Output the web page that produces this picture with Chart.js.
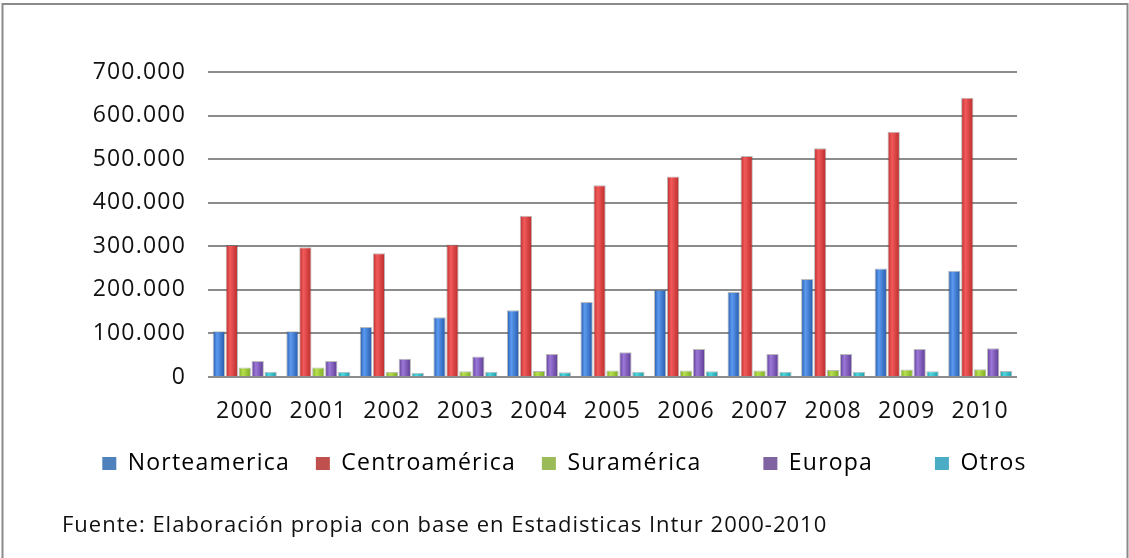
<!DOCTYPE html>
<html>
<head>
<meta charset="utf-8">
<script src="https://cdn.jsdelivr.net/npm/chart.js@4/dist/chart.umd.min.js"></script>
<style>
  html, body { margin: 0; padding: 0; background: #fff; }
  #wrap { width: 1129px; height: 558px; }
</style>
</head>
<body>
<div id="wrap"><canvas id="chart" width="1129" height="558"></canvas></div>
<script>
// years on the x axis
const years = ['2000', '2001', '2002', '2003', '2004', '2005', '2006', '2007', '2008', '2009', '2010'];

// visitors by region of origin
const norteamerica  = [105000, 105000, 115000, 137000, 153000, 172000, 200000, 195000, 225000, 249000, 244000];
const centroamerica = [303000, 298000, 284000, 304000, 370000, 440000, 460000, 507000, 525000, 563000, 641000];
const suramerica    = [22000, 22000, 12000, 13000, 14000, 15000, 15000, 15000, 16000, 17000, 18000];
const europa        = [37000, 37000, 42000, 47000, 53000, 57000, 64000, 53000, 53000, 64000, 66000];
const otros         = [12000, 12000, 10000, 12000, 11000, 12000, 13000, 12000, 12000, 13000, 14000];

const seriesNames = ['Norteamerica', 'Centroamérica', 'Suramérica', 'Europa', 'Otros'];
const yTicks = [0, 100000, 200000, 300000, 400000, 500000, 600000, 700000];
const sourceText = 'Fuente: Elaboración propia con base en Estadisticas Intur 2000-2010';

// office colours for the legend, brighter shades for the bars
const legendColors = ['#4F81BD', '#C0504D', '#9BBB59', '#8064A2', '#4BACC6'];
const barDark  = ['#2358a8', '#b82a2a', '#78a820', '#5a3a90', '#1a9aa8'];
const barLight = ['#5c9af0', '#f25a5a', '#b8e050', '#9c78d8', '#50d8e0'];
// extra trailing room per legend entry (Excel puts them in fixed-width slots)
const legendPad = ['', '', '     ', '     ', ''];

const FONT = "'Open Sans', sans-serif";

function fmt(v) {
    return String(v).replace(/\B(?=(\d{3})+(?!\d))/g, '.');
}

// a bit of letter spacing for axis and legend text (the export looks stretched)
const spacing = {
    id: 'spacing',
    beforeUpdate(chart) { chart.ctx.letterSpacing = '1.2px'; },
    beforeLayout(chart) { chart.ctx.letterSpacing = '1.2px'; },
    beforeDraw(chart) { chart.ctx.letterSpacing = '1.2px'; }
};

// white page, grey frame and the source note
const frame = {
    id: 'frame',
    beforeDraw(chart) {
        const ctx = chart.ctx;
        ctx.save();
        ctx.fillStyle = '#fff';
        ctx.fillRect(0, 0, chart.width, chart.height);
        ctx.strokeStyle = '#8a8a8a';
        ctx.lineWidth = 2;
        ctx.strokeRect(2.5, 4, 1125, 560);
        ctx.restore();
    },
    afterDraw(chart) {
        const ctx = chart.ctx;
        ctx.save();
        ctx.letterSpacing = '1px';
        ctx.font = '22px ' + FONT;
        ctx.fillStyle = '#111';
        ctx.textBaseline = 'middle';
        ctx.textAlign = 'left';
        ctx.fillText(sourceText, 62, 526);
        ctx.restore();
    }
};

// cylinder-ish shading on every bar
const shade = {
    id: 'shade',
    beforeDatasetsDraw(chart) {
        const ctx = chart.ctx;
        chart.data.datasets.forEach((ds, di) => {
            const meta = chart.getDatasetMeta(di);
            meta.data.forEach(el => {
                const w = el.width;
                const g = ctx.createLinearGradient(el.x - w / 2, 0, el.x + w / 2, 0);
                g.addColorStop(0, barDark[di]);
                g.addColorStop(0.35, barLight[di]);
                g.addColorStop(1, barDark[di]);
                el.options = Object.assign({}, el.options, { backgroundColor: g });
            });
        });
    }
};

const series = [norteamerica, centroamerica, suramerica, europa, otros];

const data = {
    labels: years,
    datasets: series.map((vals, i) => ({
        label: seriesNames[i],
        data: vals,
        backgroundColor: legendColors[i],
        borderColor: 'rgba(60,60,60,0.35)',
        borderWidth: 1,
        categoryPercentage: 0.88,
        barPercentage: 0.95
    }))
};

const config = {
    type: 'bar',
    data: data,
    plugins: [spacing, frame, shade],
    options: {
        responsive: false,
        animation: false,
        devicePixelRatio: 1,
        layout: { padding: { top: 72, left: 0, right: 0, bottom: 73 } },
        scales: {
            x: {
                afterFit(scale) { scale.height = 49; },
                grid: { display: false, drawTicks: false },
                border: { display: false },
                ticks: { color: '#111', font: { family: FONT, size: 23 }, padding: 21, maxRotation: 0, autoSkip: false }
            },
            y: {
                min: 0,
                max: 700000,
                afterBuildTicks(scale) { scale.ticks = yTicks.map(v => ({ value: v })); },
                afterFit(scale) { scale.width = 208; },
                grid: { color: '#8c8c8c', lineWidth: 2, drawTicks: false },
                border: { display: false },
                ticks: {
                    color: '#111',
                    font: { family: FONT, size: 23 },
                    padding: 22,
                    callback: v => fmt(v)
                }
            },
            yRight: {
                position: 'right',
                afterFit(scale) { scale.width = 112; },
                grid: { display: false },
                border: { display: false },
                ticks: { display: false }
            }
        },
        plugins: {
            legend: {
                position: 'bottom',
                labels: {
                    color: '#111',
                    font: { family: FONT, size: 23 },
                    boxWidth: 14,
                    boxHeight: 13,
                    padding: 26,
                    generateLabels(chart) {
                        return seriesNames.map((n, i) => ({
                            text: n + legendPad[i],
                            fillStyle: legendColors[i],
                            strokeStyle: legendColors[i],
                            lineWidth: 0,
                            datasetIndex: i,
                            hidden: false
                        }));
                    }
                }
            },
            tooltip: { enabled: false }
        }
    }
};

const ctx = document.getElementById('chart');
const chart = new Chart(ctx, config);
</script>
</body>
</html>
